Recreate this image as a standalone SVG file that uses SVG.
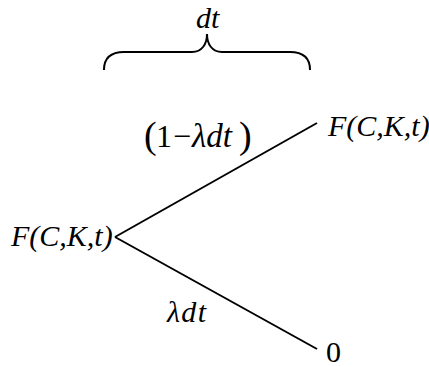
<svg xmlns="http://www.w3.org/2000/svg" width="429" height="367" viewBox="0 0 429 367">
<style>
.t{font-family:"Liberation Serif","Times New Roman",serif;fill:#000}
.s{font-size:30px}
.m{font-size:32px}
.p{font-size:38px}
.i{font-style:italic}
.ln{stroke:#000;stroke-width:2;fill:none}
</style>
<rect width="429" height="367" fill="#fff"/>
<g id="brace">
<path class="ln" d="M104,70 C104,58 110,52 124,52 L192,52 C202,52 207,44 207,34 C207,44 212,52 222,52 L290,52 C304,52 310,58 310,70"/>
<text class="t s i" x="196" y="28">dt</text>
</g>
<g id="connectors">
<line class="ln" x1="115" y1="237" x2="317" y2="123"/>
<line class="ln" x1="115" y1="237" x2="317" y2="349"/>
</g>
<g id="root">
<text class="t s i" x="11" y="246">F(C,K,t)</text>
</g>
<g id="up">
<text class="t s i" x="328" y="136">F(C,K,t)</text>
</g>
<g id="down">
<text class="t s" x="326" y="362">0</text>
</g>
<g id="label-up">
<text class="t p" x="144" y="148">(</text>
<text class="t m" x="156" y="147">1</text>
<text class="t m" x="173" y="147">−</text>
<text class="t i" x="192" y="147" font-size="33" style="font-size:33px">λdt</text>
<text class="t p" x="239" y="148">)</text>
</g>
<g id="label-down">
<text class="t s i" x="167" y="322" textLength="39" lengthAdjust="spacing">λdt</text>
</g>
</svg>
